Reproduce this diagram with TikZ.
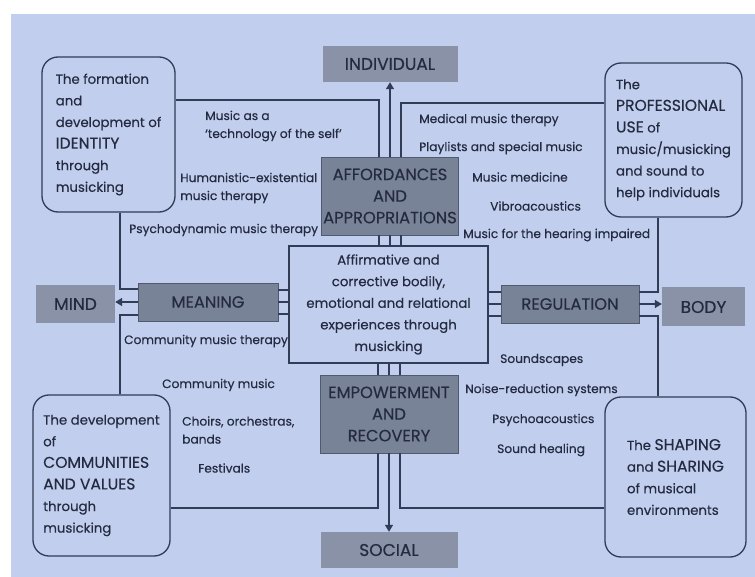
\documentclass[tikz,border=0pt]{standalone}
\usepackage{fontspec}
\setmainfont{Poppins}[FakeBold=0.35]
\usetikzlibrary{arrows.meta,calc}
\definecolor{pagebg}{RGB}{193,206,238}
\definecolor{darkbox}{RGB}{121,131,152}
\definecolor{greybox}{RGB}{137,146,166}
\definecolor{ln}{RGB}{50,60,86}
\definecolor{txt}{RGB}{36,43,64}
\newcommand\bxf{\fontsize{13.3}{21.6}\selectfont}
\newcommand\lbf{\fontsize{12.2}{18}\selectfont}
\newcommand\capf{\fontsize{16.3}{21.6}\selectfont}
\newcommand\cp[1]{{\fontsize{15.6}{21.6}\selectfont #1}}
\begin{document}
\begin{tikzpicture}[x=1pt,y=-1pt,
  every node/.style={text=txt},
  rbox/.style={draw=ln, line width=1.3pt, rounded corners=16pt, inner sep=0pt, align=left, font=\bxf},
  dbox/.style={fill=darkbox, draw=ln!85, line width=0.9pt, inner sep=0pt, align=center, font=\capf},
  gbox/.style={fill=greybox, inner sep=0pt, align=center, font=\fontsize{17}{20}\selectfont},
  cbox/.style={draw=ln, line width=1.3pt, inner sep=0pt, align=center, font=\bxf},
  lbl/.style={anchor=west, align=left, inner sep=0pt, font=\lbf},
  conn/.style={draw=ln, line width=1.3pt},
  arr/.style={conn, -{Triangle[length=7pt,width=8pt]}}
]
\useasboundingbox (0,0) rectangle (755,577);
\fill[white] (0,0) rectangle (755,577);
\fill[pagebg] (11,14) rectangle (755,577);

% outer direction boxes
\node[gbox, minimum width=135pt, minimum height=36pt] (ind) at (390,64) {INDIVIDUAL};
\node[gbox, minimum width=137pt, minimum height=36pt] (soc) at (389,550) {SOCIAL};
\node[gbox, minimum width=79pt, minimum height=38pt] (mind) at (75.5,304) {MIND};
\node[gbox, minimum width=83pt, minimum height=39pt] (body) at (703.5,307) {BODY};

% category boxes
\node[dbox, minimum width=137pt, minimum height=78pt] (aff) at (390,196) {AFFORDANCES\\AND\\APPROPRIATIONS};
\node[dbox, minimum width=138pt, minimum height=78pt] (emp) at (389,414) {EMPOWERMENT\\AND\\RECOVERY};
\node[dbox, minimum width=140pt, minimum height=38pt] (mean) at (208,302) {MEANING};
\node[dbox, minimum width=138pt, minimum height=38pt] (reg) at (570,304) {REGULATION};

% central box
\node[cbox, minimum width=199pt, minimum height=117pt] (ctr) at (388.5,304.5) {Affirmative and\\corrective bodily,\\emotional and relational\\experiences through\\musicking};

% corner boxes
\node[rbox, minimum width=133pt, minimum height=155pt] (tl) at (108.5,134.5) {The formation\\and\\development of\\\cp{IDENTITY}\\through\\musicking};
\node[rbox, minimum width=137pt, minimum height=154pt] (tr) at (673.5,140) {The\\\cp{PROFESSIONAL}\\\cp{USE} of\\music/musicking\\and sound to\\help individuals};
\node[rbox, minimum width=137pt, minimum height=161pt] (bl) at (101.5,475.5) {The development\\of\\\cp{COMMUNITIES}\\\cp{AND VALUES}\\through\\musicking};
\node[rbox, minimum width=141pt, minimum height=160pt] (br) at (675.5,477) {The \cp{SHAPING}\\and \cp{SHARING}\\of musical\\environments};

% triple connectors to the centre
\foreach \dx in {-11,0,11} {
  \draw[conn] ([xshift=\dx pt]aff.south) -- ([xshift=\dx pt]aff.south |- ctr.north);
  \draw[conn] ([xshift=\dx pt]emp.north) -- ([xshift=\dx pt]emp.north |- ctr.south);
}
\foreach \dy in {-12,0,12} {
  \draw[conn] ([yshift=\dy pt]mean.east) -- ([yshift=\dy pt]mean.east -| ctr.west);
  \draw[conn] ([yshift=\dy pt]reg.west) -- ([yshift=\dy pt]reg.west -| ctr.east);
}

% top
\coordinate (tlturn) at (379,100);
\coordinate (trturn) at (401,103);
\draw[conn] (tl.east |- tlturn) -| ([xshift=-11pt]aff.north);
\draw[conn] (tr.west |- trturn) -| ([xshift=11pt]aff.north);
\draw[arr] (aff.north) -- (aff.north |- ind.south);

% bottom
\coordinate (blturn) at (378,508);
\coordinate (brturn) at (400,508);
\draw[conn] (bl.east |- blturn) -| ([xshift=-11pt]emp.south);
\draw[conn] (br.west |- brturn) -| ([xshift=11pt]emp.south);
\draw[arr] (emp.south) -- (emp.south |- soc.north);

% left
\coordinate (lx) at (120,0);
\draw[conn] (tl.south -| lx) |- ([yshift=13pt]mean.west);
\draw[conn] (bl.north -| lx) |- ([yshift=-13pt]mean.west);
\draw[arr] (mean.west) -- (mean.west -| mind.east);

% right
\coordinate (rx) at (658,0);
\draw[conn] (tr.south -| rx) |- ([yshift=12pt]reg.east);
\draw[conn] (br.north -| rx) |- ([yshift=-12pt]reg.east);
\draw[arr] (reg.east) -- (reg.east -| body.west);

% labels
\node[lbl] (l1) at (205,126) {Music as a\\‘technology of the self’};
\node[lbl] (l2) at (180,188) {Humanistic-existential\\music therapy};
\node[lbl] (l3) at (129,230) {Psychodynamic music therapy};
\node[lbl] (l4) at (419,120) {Medical music therapy};
\node[lbl] (l5) at (419,148) {Playlists and special music};
\node[lbl] (l6) at (472,177) {Music medicine};
\node[lbl] (l7) at (490,206) {Vibroacoustics};
\node[lbl] (l8) at (463,235) {Music for the hearing impaired};
\node[lbl] (l9) at (124,341) {Community music therapy};
\node[lbl] (l10) at (162,385) {Community music};
\node[lbl] (l11) at (182,430) {Choirs, orchestras,\\bands};
\node[lbl] (l12) at (198,468) {Festivals};
\node[lbl] (l13) at (500,360) {Soundscapes};
\node[lbl] (l14) at (465,390) {Noise-reduction systems};
\node[lbl] (l15) at (492,420) {Psychoacoustics};
\node[lbl] (l16) at (497,450) {Sound healing};
\end{tikzpicture}
\end{document}
